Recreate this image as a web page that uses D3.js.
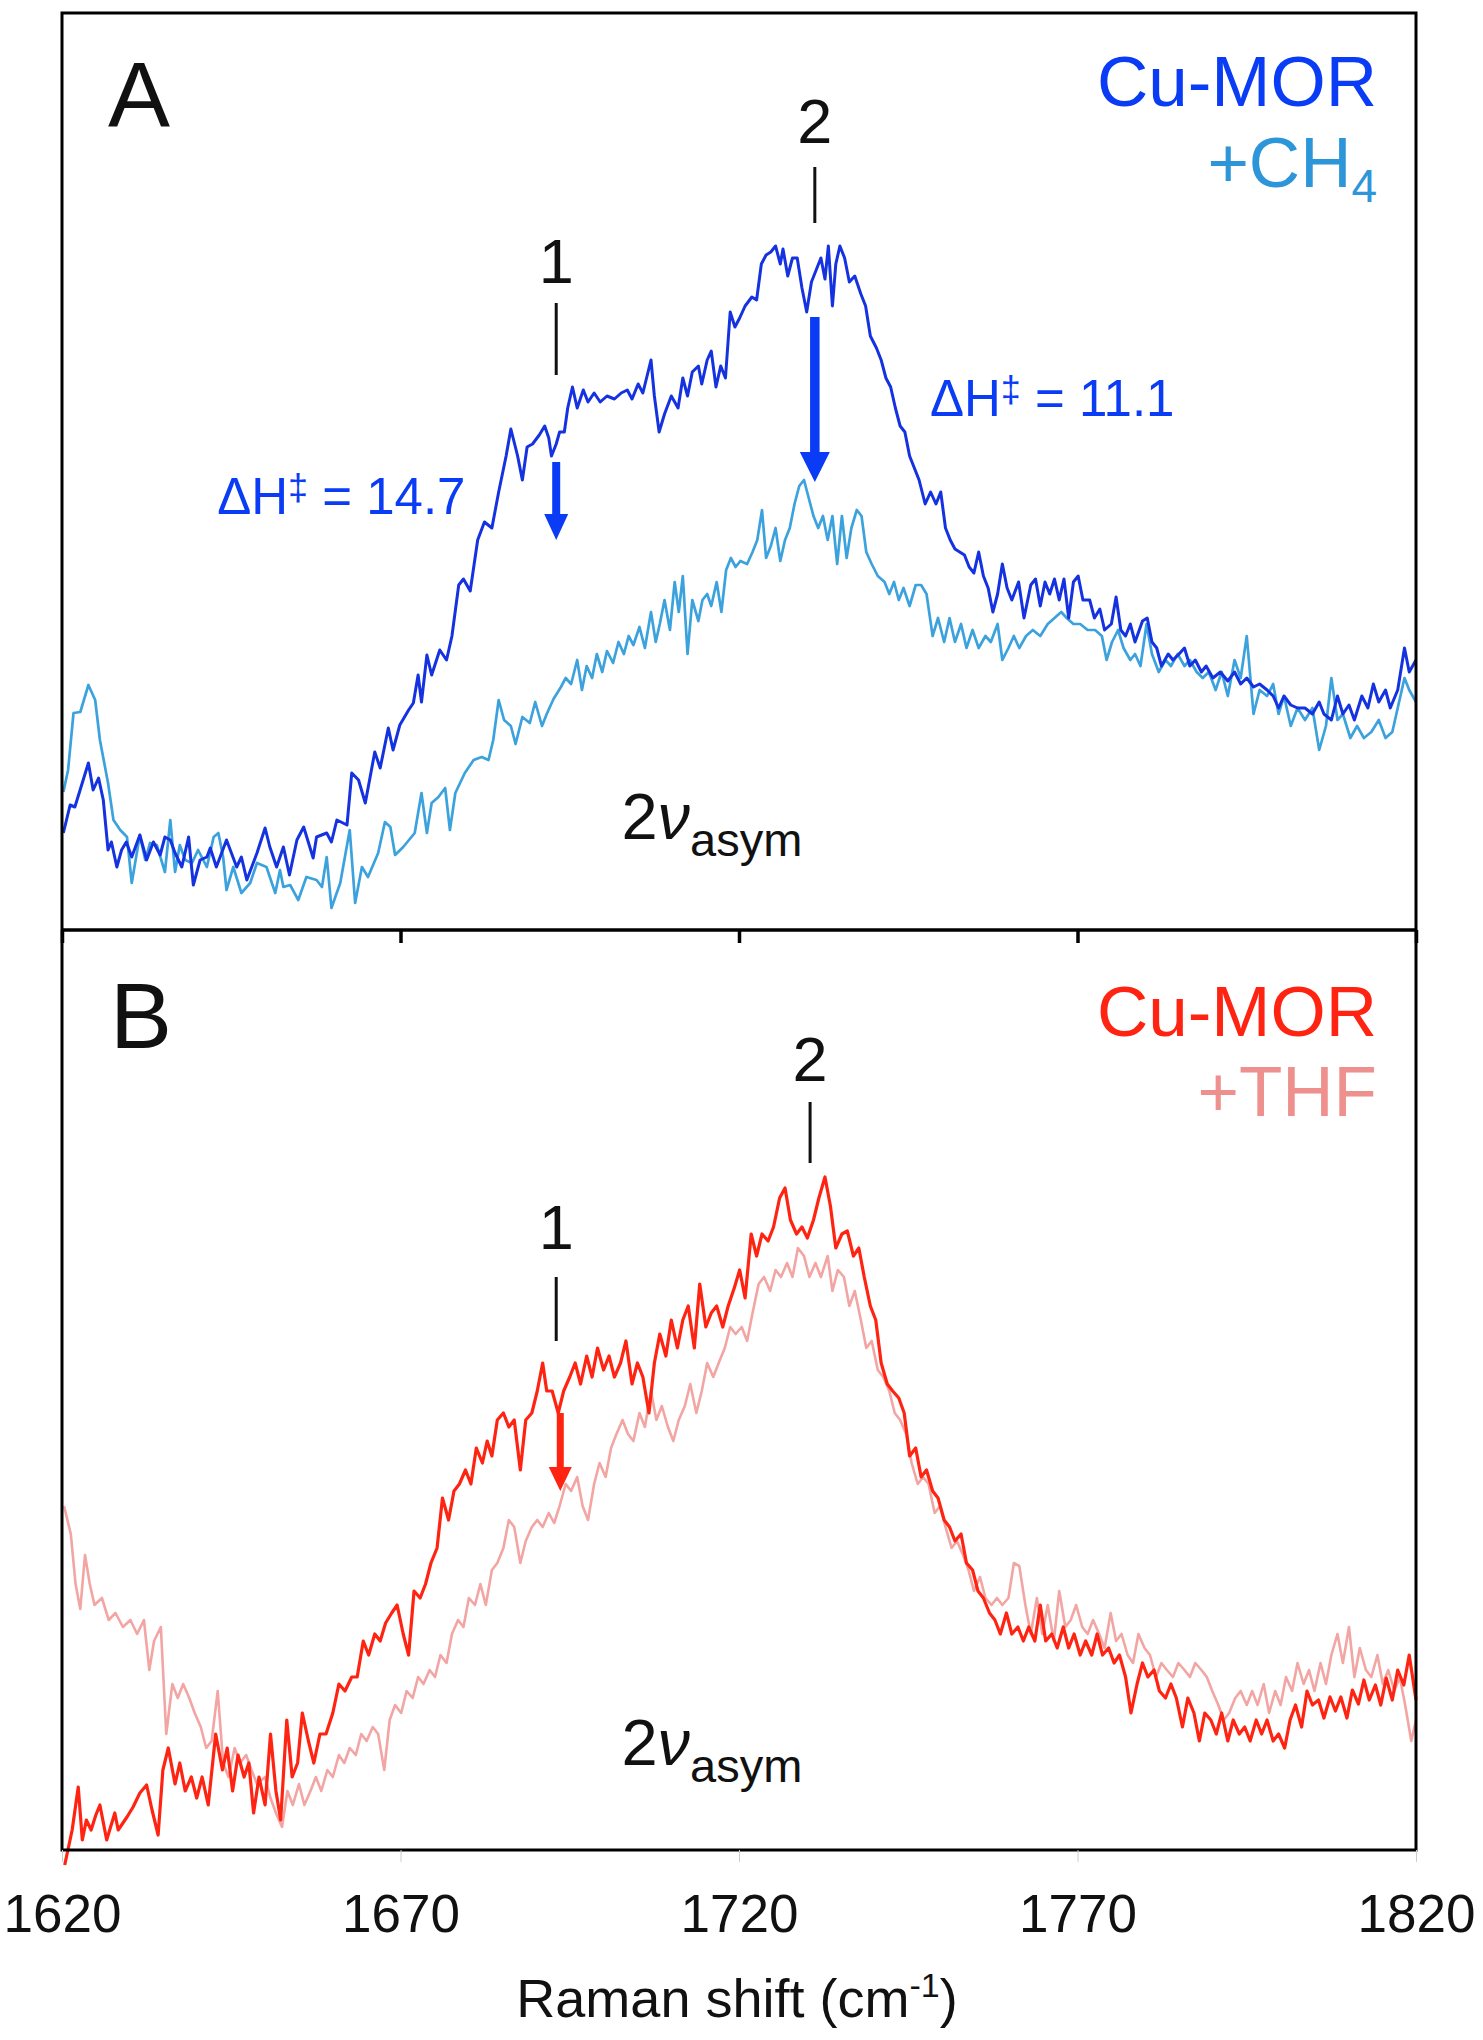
<!DOCTYPE html>
<html lang="en">
<head>
<meta charset="UTF-8">
<title>Cu-MOR Raman 2v_asym</title>
<script src="https://d3js.org/d3.v7.min.js"></script>
<style>
  body { margin: 0; background: #fff; }
  text { font-family: "Liberation Sans", Arial, Helvetica, sans-serif; }
</style>
</head>
<body>
<script>
// Raman shift (cm-1) / intensity (a.u.)
const shiftTicks = [1620, 1670, 1720, 1770, 1820];

// panel A, Cu-MOR
const cuMorA = [[1620.2,97],[1621.2,125],[1621.9,123],[1623.9,167],[1624.6,140],[1625.4,152],[1626.1,130],[1626.8,80],[1627.3,88],[1628.1,63],[1628.8,80],[1629.5,88],[1630.3,73],[1631.5,95],[1632.5,70],[1633.5,88],[1634.5,75],[1635.2,93],[1636.0,90],[1636.7,77],[1637.7,63],[1638.7,93],[1639.4,45],[1640.4,70],[1641.4,73],[1641.9,82],[1642.8,63],[1644.3,90],[1645.8,63],[1646.5,73],[1647.3,50],[1648.8,77],[1650.0,102],[1650.7,83],[1651.7,63],[1652.7,83],[1653.6,55],[1654.7,90],[1655.7,103],[1657.1,72],[1657.6,93],[1659.1,97],[1659.8,88],[1660.6,110],[1662.1,105],[1662.8,157],[1663.8,150],[1664.8,127],[1666.2,178],[1667.0,162],[1668.2,202],[1668.9,180],[1669.9,205],[1671.2,220],[1671.9,227],[1672.6,255],[1673.1,228],[1673.9,275],[1674.6,255],[1675.8,280],[1676.8,270],
[1677.6,294],[1678.6,345],[1679.3,351],[1680.3,339],[1681.4,390],[1682.4,408],[1683.5,402],[1684.5,438],[1685.6,474],[1686.3,501],[1687.3,474],[1688.0,450],[1688.7,483],[1689.5,486],[1690.5,495],[1691.3,504],[1691.9,492],[1692.3,474],[1693.0,486],[1693.5,498],[1694.2,498],[1694.7,522],[1695.4,543],[1696.1,522],[1697.0,540],[1697.7,528],[1698.6,537],[1699.5,528],[1700.5,534],[1701.6,531],[1702.6,537],[1703.5,540],[1704.2,531],[1705.1,546],[1705.8,537],[1707.0,570],[1707.5,534],[1708.2,498],[1709.0,516],[1710.0,534],[1711.0,522],[1711.7,552],[1712.4,534],[1713.1,558],[1714.0,564],[1714.5,546],[1715.3,570],[1715.9,579],[1716.6,543],[1717.3,564],[1718.0,552],[1718.7,618],[1719.4,603],[1720.1,612],[1720.9,624],[1721.9,633],[1722.6,630],[1723.3,666],[1724.0,675],[1724.7,678],[1725.4,684],[1726.1,666],[1726.5,681],[1727.2,654],[1727.9,672],[1728.6,672],[1729.3,642],[1730.0,618],[1730.7,648],[1731.4,660],[1732.1,672],[1732.7,651],[1733.2,684],[1733.8,624],[1734.3,666],[1734.9,684],[1735.6,672],[1736.3,648],[1737.1,654],[1738.0,636],[1738.7,624],[1739.4,594],[1740.3,582],[1741.0,570],[1741.7,552],[1742.4,543],[1743.1,522],[1743.8,504],[1744.5,498],[1745.2,474],[1745.9,462],[1746.6,450],[1747.5,426],[1748.3,438],[1749.1,426],[1749.8,438],[1750.5,402],[1751.2,390],[1751.9,381],[1753.3,375],[1754.0,363],[1754.7,357],[1755.4,378],[1756.1,354],[1756.8,342],[1757.5,318],[1758.2,336],[1758.9,366],[1759.6,342],[1760.3,330],[1761.3,348],[1762.1,312],[1763.1,345],[1763.8,351],[1764.5,324],[1765.2,348],[1765.9,336],[1766.6,351],[1767.3,330],[1768.0,351],[1768.7,312],[1769.4,348],[1770.1,354],[1770.8,330],[1771.8,330],[1772.5,312],[1773.3,321],[1774.0,300],[1775.0,306],[1775.7,333],[1776.4,300],[1777.1,294],[1777.8,306],[1778.5,288],[1779.6,309],[1780.3,312],[1781.0,288],[1781.7,282],[1782.4,264],[1783.4,276],[1784.1,270],[1785.0,276],[1785.8,282],[1786.6,264],[1787.4,270],[1788.3,258],[1789.0,264],[1790.0,252],[1791.1,258],[1792.2,249],[1793.2,258],[1794.1,246],[1795.0,252],[1796.0,243],[1796.9,246],[1798.0,240],[1798.9,234],[1799.7,222],[1800.5,234],[1801.5,225],[1802.5,222],[1803.6,222],[1804.7,216],[1805.7,228],[1806.4,216],[1807.5,210],[1808.4,234],[1809.2,216],[1810.1,225],[1810.9,210],[1812.0,234],[1812.9,222],[1813.7,246],[1814.5,228],[1815.5,240],[1816.2,222],[1817.3,240],[1818.3,282],[1819.0,258],[1820.0,270]];

// panel A, +CH4
const ch4A = [[1620.2,138],[1620.9,160],[1621.7,217],[1622.7,218],[1623.9,245],[1624.9,230],[1625.6,190],[1626.8,147],[1627.6,110],[1628.6,100],[1629.6,93],[1630.3,47],[1631.5,95],[1632.3,70],[1633.0,87],[1634.0,85],[1635.2,58],[1636.0,110],[1636.7,58],[1637.4,85],[1638.2,70],[1639.2,67],[1640.1,80],[1641.4,63],[1642.4,93],[1643.1,97],[1643.8,73],[1644.3,40],[1645.3,63],[1646.5,37],[1647.8,47],[1648.8,67],[1650.2,63],[1651.5,37],[1652.2,60],[1652.7,43],[1653.7,45],[1654.9,30],[1656.1,53],[1657.6,50],[1658.4,43],[1659.1,73],[1659.8,22],[1661.1,47],[1662.5,100],[1663.3,27],[1664.3,63],[1665.2,53],[1666.7,77],[1667.7,108],[1668.5,103],[1669.2,75],[1670.4,83],[1672.1,97],[1673.1,137],[1673.9,97],[1674.6,127],[1675.6,133],[1676.6,142],[1677.3,100],[1678.1,137],[1679.5,157],[1680.8,170],[1682.0,173],[1683.0,170],[1683.7,190],[1684.5,230],
[1685.3,210],[1686.3,204],[1687.0,186],[1688.0,213],[1689.1,207],[1689.9,228],[1690.9,204],[1691.6,216],[1692.6,231],[1693.7,243],[1694.4,252],[1695.2,246],[1696.1,270],[1696.8,240],[1697.5,264],[1698.3,252],[1699.0,276],[1699.8,258],[1700.5,279],[1701.4,267],[1702.2,288],[1703.0,276],[1703.7,294],[1704.4,285],[1705.3,303],[1706.1,282],[1707.0,318],[1707.7,288],[1708.3,306],[1709.0,330],[1709.8,300],[1710.5,348],[1711.1,318],[1711.7,354],[1712.4,276],[1713.1,330],[1714.0,309],[1714.6,330],[1715.3,336],[1715.9,324],[1716.7,348],[1717.4,318],[1718.1,360],[1718.8,372],[1719.5,363],[1720.2,369],[1721.2,366],[1722.0,378],[1722.7,390],[1723.4,420],[1724.0,372],[1724.7,384],[1725.4,402],[1726.1,369],[1726.8,390],[1727.5,402],[1728.2,426],[1728.9,444],[1729.6,450],[1730.3,432],[1731.0,414],[1731.7,402],[1732.4,414],[1733.1,390],[1733.8,414],[1734.5,366],[1735.2,414],[1735.9,372],[1736.6,402],[1737.4,420],[1738.1,414],[1738.8,378],[1739.6,366],[1740.5,354],[1741.5,348],[1742.2,336],[1742.9,348],[1743.6,330],[1744.3,342],[1745.2,324],[1746.1,345],[1746.9,345],[1747.7,336],[1748.6,294],[1749.4,312],[1750.3,288],[1751.1,312],[1751.9,288],[1752.8,306],[1753.6,282],[1754.5,300],[1755.4,282],[1756.4,294],[1757.2,288],[1758.2,306],[1758.9,270],[1759.8,282],[1760.6,294],[1761.4,282],[1762.4,294],[1763.4,300],[1764.5,294],[1765.6,306],[1766.6,312],[1767.6,318],[1768.4,312],[1769.4,306],[1770.4,306],[1771.5,300],[1772.6,300],[1773.6,294],[1774.3,270],[1775.1,288],[1776.0,300],[1776.8,282],[1777.8,270],[1778.5,276],[1779.3,264],[1780.2,306],[1781.0,276],[1782.0,258],[1783.0,270],[1783.8,264],[1784.8,276],[1785.8,264],[1786.6,270],[1787.6,258],[1788.5,252],[1789.4,258],[1790.4,240],[1791.3,258],[1792.2,234],[1793.2,270],[1794.1,252],[1795.0,294],[1796.0,216],[1796.9,240],[1798.0,234],[1798.9,246],[1799.7,216],[1800.5,234],[1801.5,204],[1802.5,222],[1803.6,210],[1804.7,222],[1805.7,180],[1806.7,204],[1807.5,252],[1808.4,210],[1809.2,216],[1810.3,192],[1811.3,204],[1812.3,192],[1813.4,198],[1814.5,210],[1815.5,192],[1816.5,198],[1817.3,222],[1818.3,252],[1819.0,240],[1820.0,228]];

// panel B, Cu-MOR
const cuMorB = [[1620.4,-15],[1621.5,20],[1622.4,63],[1623.0,10],[1623.6,30],[1624.3,20],[1625.0,35],[1625.6,45],[1626.6,10],[1627.8,37],[1628.3,20],[1629.6,33],[1630.5,43],[1631.5,57],[1632.5,65],[1633.3,40],[1634.2,15],[1634.9,80],[1635.7,102],[1636.7,66],[1637.4,87],[1638.2,59],[1639.1,73],[1639.9,52],[1640.7,73],[1641.6,45],[1642.7,116],[1643.7,80],[1644.4,102],[1645.2,59],[1646.0,95],[1646.9,73],[1647.6,87],[1648.3,37],[1649.1,73],[1650.0,45],[1650.8,116],[1651.6,59],[1652.3,30],[1653.2,130],[1654.0,73],[1654.8,87],[1655.5,137],[1656.4,109],[1657.2,87],[1658.1,116],[1659.0,116],[1660.0,137],[1660.9,166],[1661.8,159],[1662.8,173],[1663.6,173],[1664.5,209],[1665.3,195],[1666.2,216],[1667.0,209],[1667.8,227],[1668.7,237],[1669.5,245],[1670.4,216],[1671.2,195],[1672.0,259],[1672.9,252],[1673.7,266],[1674.5,287],[1675.4,302],[1676.2,352],[1677.1,330],[1677.9,359],[1678.7,366],[1679.6,380],[1680.4,366],[1681.2,402],[1682.1,387],[1682.8,409],[1683.5,394],[1684.3,430],[1685.2,437],[1686.0,423],[1686.8,430],[1687.7,380],[1688.5,430],[1689.4,437],[1690.2,459],[1691.0,487],[1691.6,459],[1692.4,459],[1693.3,437],[1694.1,459],[1695.0,473],[1695.8,487],[1696.6,466],[1697.5,494],[1698.3,473],[1699.1,502],[1700.0,480],[1700.8,494],[1701.6,473],[1702.5,487],[1703.3,509],[1704.2,466],[1705.0,487],[1705.8,473],[1706.7,437],[1707.5,487],[1708.3,516],[1709.2,494],[1710.0,530],[1710.9,502],[1711.7,530],[1712.5,544],[1713.4,502],[1714.2,566],[1715.1,523],[1715.9,537],[1716.7,544],[1717.6,523],[1718.4,544],[1719.3,562],[1720.1,580],[1720.9,552],[1721.8,616],[1722.6,594],[1723.4,616],[1724.3,609],[1725.1,623],[1726.0,652],[1726.8,662],[1727.6,630],[1728.5,616],[1729.3,623],[1730.1,612],[1731.0,630],[1731.8,652],[1732.7,673],[1733.5,644],[1734.3,602],[1735.2,616],[1736.0,619],[1736.9,594],[1737.7,602],[1738.5,573],[1739.4,544],[1740.2,530],[1741.0,487],[1741.9,466],[1742.7,459],[1743.6,452],[1744.4,437],[1745.2,394],[1746.1,402],[1746.9,373],[1747.7,380],[1748.6,359],[1749.4,352],[1750.3,330],[1751.1,323],[1751.9,309],[1752.8,316],[1753.6,287],[1754.5,280],[1755.3,259],[1756.1,252],[1757.0,237],[1757.8,230],[1758.6,216],[1759.5,237],[1760.3,216],[1761.2,223],[1762.0,209],[1762.8,223],[1763.7,209],[1764.5,245],[1765.3,209],[1766.2,216],[1767.0,202],[1767.9,223],[1768.7,202],[1769.5,216],[1770.4,195],[1771.2,209],[1772.1,195],[1772.9,216],[1773.7,195],[1774.6,202],[1775.4,187],[1776.2,195],[1777.1,173],[1777.9,137],[1778.8,166],[1779.6,187],[1780.4,173],[1781.3,180],[1782.1,159],[1783.0,152],[1783.8,166],[1784.6,152],[1785.5,123],[1786.3,152],[1787.2,137],[1788.0,109],[1788.8,137],[1789.7,130],[1790.5,116],[1791.3,137],[1792.2,109],[1793.0,130],[1793.9,116],[1794.7,123],[1795.5,109],[1796.4,130],[1797.2,116],[1798.0,130],[1798.9,109],[1799.7,116],[1800.6,102],[1801.4,130],[1802.2,145],[1803.1,123],[1803.9,159],[1804.7,145],[1805.6,150],[1806.4,132],[1807.3,153],[1808.1,139],[1808.9,153],[1809.8,132],[1810.6,160],[1811.5,146],[1812.3,170],[1813.1,150],[1814.0,165],[1814.8,145],[1815.6,172],[1816.5,150],[1817.3,180],[1818.2,165],[1819.0,195],[1820.0,150]];

// panel B, +THF
const thfB = [[1620.3,344],[1621.3,316],[1622.0,266],[1622.7,241],[1623.4,295],[1624.1,266],[1624.8,245],[1625.9,252],[1626.9,230],[1627.9,237],[1629.0,223],[1630.1,230],[1631.1,216],[1632.1,230],[1632.9,180],[1633.6,209],[1634.6,223],[1635.4,116],[1636.3,166],[1637.1,152],[1637.9,166],[1638.8,152],[1639.6,137],[1640.5,123],[1641.3,102],[1642.1,109],[1643.0,159],[1643.8,87],[1644.6,73],[1645.5,102],[1646.3,87],[1647.2,95],[1648.0,80],[1648.8,66],[1650.0,73],[1650.8,52],[1651.6,37],[1652.5,23],[1653.3,59],[1654.1,45],[1655.0,66],[1655.8,45],[1656.7,59],[1657.5,73],[1658.3,59],[1659.2,80],[1660.0,73],[1660.9,95],[1661.7,87],[1662.5,102],[1663.4,95],[1664.2,116],[1665.0,109],[1665.9,123],[1666.7,116],[1667.6,80],[1668.4,130],[1669.2,145],[1670.1,137],[1670.9,159],[1671.8,152],[1672.6,173],[1673.4,166],[1674.3,180],[1675.1,173],[1675.9,195],[1676.8,187],[1677.6,216],[1678.5,230],[1679.3,223],[1680.1,252],[1681.0,245],[1681.8,266],[1682.6,245],[1683.5,280],[1684.3,287],[1685.2,302],[1686.0,330],[1686.8,323],[1687.7,287],[1688.5,309],[1689.4,323],[1690.2,330],[1691.0,323],[1691.9,337],[1692.7,327],[1693.5,344],[1694.4,366],[1695.2,359],[1696.1,373],[1696.9,344],[1697.7,330],[1698.6,366],[1699.4,387],[1700.3,373],[1701.1,402],[1701.9,416],[1702.8,430],[1703.6,416],[1704.4,409],[1705.3,437],[1706.1,423],[1707.0,459],[1707.8,430],[1708.6,444],[1709.5,423],[1710.3,409],[1711.1,430],[1712.0,444],[1712.8,466],[1713.7,437],[1714.5,459],[1715.3,487],[1716.2,473],[1717.0,487],[1717.9,502],[1718.7,523],[1719.5,516],[1720.4,523],[1721.2,509],[1722.0,537],[1722.9,566],[1723.7,573],[1724.6,559],[1725.4,580],[1726.2,573],[1727.1,587],[1727.9,573],[1728.7,602],[1729.6,594],[1730.4,573],[1731.3,587],[1732.1,573],[1733.1,594],[1733.8,559],[1734.6,580],[1735.5,573],[1736.3,544],[1737.1,559],[1738.0,530],[1738.8,502],[1739.6,509],[1740.5,480],[1741.3,473],[1742.2,459],[1743.0,437],[1743.8,430],[1744.7,416],[1745.5,387],[1746.4,366],[1747.2,373],[1748.0,366],[1748.9,337],[1749.7,344],[1750.5,323],[1751.4,302],[1752.2,309],[1753.1,295],[1753.9,280],[1754.7,259],[1755.6,273],[1756.4,252],[1757.3,245],[1758.1,252],[1758.9,245],[1759.8,252],[1760.6,287],[1761.4,284],[1762.3,245],[1763.1,216],[1764.0,252],[1764.8,216],[1765.6,245],[1766.5,209],[1767.3,259],[1768.2,223],[1769.0,230],[1769.8,245],[1770.7,223],[1771.5,216],[1772.3,230],[1773.2,216],[1774.0,202],[1774.9,237],[1775.7,209],[1776.5,216],[1777.4,195],[1778.2,187],[1779.0,216],[1779.9,202],[1780.7,195],[1781.6,173],[1782.4,187],[1783.2,180],[1784.1,173],[1784.9,187],[1785.8,180],[1786.6,173],[1787.4,187],[1788.3,180],[1789.1,173],[1789.9,159],[1790.8,145],[1791.6,130],[1792.4,137],[1793.3,152],[1794.1,159],[1795.0,145],[1795.8,159],[1796.6,145],[1797.5,166],[1798.3,137],[1799.2,159],[1800.0,145],[1800.8,173],[1801.7,159],[1802.5,187],[1803.4,166],[1804.2,180],[1805.0,159],[1805.9,187],[1806.7,166],[1807.5,195],[1808.4,216],[1809.2,187],[1810.1,223],[1810.9,173],[1811.7,202],[1812.6,180],[1813.4,173],[1814.3,195],[1815.1,166],[1815.9,180],[1816.8,159],[1817.6,173],[1818.4,145],[1819.3,109],[1820.0,130]];

// page geometry
const W = 1483, H = 2040;
const left = 62, right = 1416;
const topA = 13, mid = 930, bottomB = 1850;

const svg = d3.select("body").append("svg")
  .attr("width", W).attr("height", H);

const x = d3.scaleLinear().domain([1620, 1820]).range([left, right]);
const yA = d3.scaleLinear().domain([0, 917]).range([mid, topA]);
const yB = d3.scaleLinear().domain([0, 920]).range([bottomB, mid]);

function spectrum(data, y, color, width) {
  const line = d3.line().x(d => x(d[0])).y(d => y(d[1]));
  svg.append("path")
    .datum(data)
    .attr("d", line)
    .attr("fill", "none")
    .attr("stroke", color)
    .attr("stroke-width", width)
    .attr("stroke-linejoin", "round");
}

// arrow pointing down, from v1 to the tip at v2
function arrow(xv, y, v1, v2, shaft, headW, headL, color) {
  const xp = x(xv), a = y(v1), b = y(v2);
  const p = d3.path();
  p.moveTo(xp - shaft / 2, a);
  p.lineTo(xp + shaft / 2, a);
  p.lineTo(xp + shaft / 2, b - headL);
  p.lineTo(xp + headW / 2, b - headL);
  p.lineTo(xp, b);
  p.lineTo(xp - headW / 2, b - headL);
  p.lineTo(xp - shaft / 2, b - headL);
  p.closePath();
  svg.append("path").attr("d", p.toString()).attr("fill", color);
}

function peakMark(label, xv, y, vText, v1, v2) {
  svg.append("text")
    .attr("x", x(xv)).attr("y", y(vText))
    .attr("text-anchor", "middle")
    .attr("font-size", 63).attr("fill", "#111")
    .text(label);
  svg.append("line")
    .attr("x1", x(xv)).attr("x2", x(xv))
    .attr("y1", y(v1)).attr("y2", y(v2))
    .attr("stroke", "#111").attr("stroke-width", 3);
}

function nuLabel(xv, y, v) {
  const t = svg.append("text")
    .attr("x", x(xv)).attr("y", y(v))
    .attr("text-anchor", "middle")
    .attr("font-size", 65).attr("fill", "#111");
  t.append("tspan").text("2");
  t.append("tspan").attr("font-style", "italic").text("ν");
  t.append("tspan").attr("font-size", 47).attr("dy", 17).text("asym");
}

function deltaH(value, xv, y, v, anchor, color) {
  const t = svg.append("text")
    .attr("x", x(xv)).attr("y", y(v))
    .attr("text-anchor", anchor)
    .attr("font-size", 51).attr("fill", color);
  t.append("tspan").text("ΔH");
  t.append("tspan").attr("font-size", 36).attr("dy", -14).text("‡");
  t.append("tspan").attr("dy", 14).text(" = " + value);
}

// ---- panel A ----
spectrum(ch4A, yA, "#3ca2dd", 2.7);
spectrum(cuMorA, yA, "#1532e0", 3);

peakMark("1", 1693.0, yA, 647, 627, 555);
peakMark("2", 1731.2, yA, 787, 763, 707);
arrow(1693.0, yA, 468, 390, 8, 24, 26, "#0a3cf5");
arrow(1731.2, yA, 613, 448, 9.5, 30, 30, "#0a3cf5");
deltaH("14.7", 1679.6, yA, 416, "end", "#0a3cf5");
deltaH("11.1", 1748.2, yA, 514, "start", "#0a3cf5");
nuLabel(1716, yA, 91);

svg.append("text").attr("x", 108).attr("y", 127)
  .attr("font-size", 93).attr("fill", "#111").text("A");
svg.append("text").attr("x", 1377).attr("y", 106)
  .attr("text-anchor", "end").attr("font-size", 71).attr("fill", "#0a3cf5")
  .text("Cu-MOR");
const ch4Label = svg.append("text").attr("x", 1377).attr("y", 187)
  .attr("text-anchor", "end").attr("font-size", 71).attr("fill", "#2d96d9");
ch4Label.append("tspan").text("+CH");
ch4Label.append("tspan").attr("font-size", 46).attr("dy", 15).text("4");

// ---- panel B ----
spectrum(thfB, yB, "#f2a5a2", 2.6);
spectrum(cuMorB, yB, "#ff2412", 3.2);

peakMark("1", 1693.0, yB, 601, 573, 509);
peakMark("2", 1730.5, yB, 769, 748, 687);
arrow(1693.6, yB, 437, 359, 7, 23, 24, "#ff2412");
nuLabel(1716, yB, 85);

svg.append("text").attr("x", 110).attr("y", 1048)
  .attr("font-size", 93).attr("fill", "#111").text("B");
svg.append("text").attr("x", 1377).attr("y", 1036)
  .attr("text-anchor", "end").attr("font-size", 71).attr("fill", "#ff2412")
  .text("Cu-MOR");
svg.append("text").attr("x", 1377).attr("y", 1116)
  .attr("text-anchor", "end").attr("font-size", 71).attr("fill", "#ee908d")
  .text("+THF");

// ---- frame and axes ----
svg.append("rect")
  .attr("x", left).attr("y", topA)
  .attr("width", right - left).attr("height", bottomB - topA)
  .attr("fill", "none").attr("stroke", "#000").attr("stroke-width", 3);
svg.append("line")
  .attr("x1", left).attr("x2", right).attr("y1", mid).attr("y2", mid)
  .attr("stroke", "#000").attr("stroke-width", 3.5);

// ticks under the panel A axis
svg.append("g")
  .attr("transform", `translate(0,${mid})`)
  .call(d3.axisBottom(x).tickValues(shiftTicks).tickSize(13).tickFormat(""))
  .call(g => g.select(".domain").remove())
  .call(g => g.selectAll(".tick line").attr("stroke", "#000").attr("stroke-width", 3.5));

// bottom axis with labels
svg.append("g")
  .attr("transform", `translate(0,${bottomB})`)
  .call(d3.axisBottom(x).tickValues(shiftTicks).tickSize(12).tickFormat(d3.format("d")))
  .call(g => g.select(".domain").remove())
  .call(g => g.selectAll(".tick line").attr("stroke", "#ccc").attr("stroke-width", 1))
  .call(g => g.selectAll(".tick text")
    .attr("y", 82).attr("dy", 0)
    .attr("font-size", 53).attr("fill", "#111")
    .attr("font-family", "Liberation Sans, Arial, sans-serif"));

const title = svg.append("text")
  .attr("x", (left + right) / 2 - 2).attr("y", 2017)
  .attr("text-anchor", "middle").attr("font-size", 54).attr("fill", "#111");
title.append("tspan").text("Raman shift (cm");
title.append("tspan").attr("font-size", 34).attr("dy", -20).text("-1");
title.append("tspan").attr("dy", 20).text(")");
</script>
</body>
</html>
